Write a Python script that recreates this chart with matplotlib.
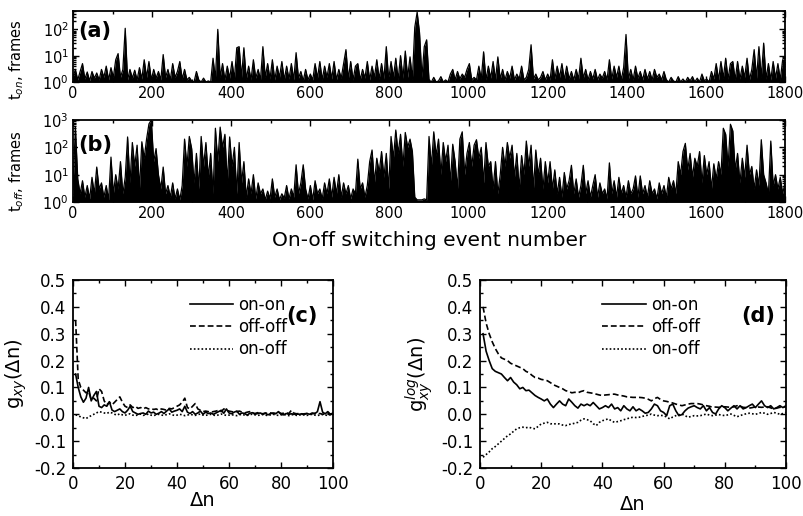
import matplotlib
matplotlib.use("Agg")
import matplotlib.pyplot as plt
import numpy as np
from matplotlib.ticker import MultipleLocator, LogLocator, NullFormatter

# ---- data ----
# (a) on-times, one value every 6 events from 0 to 1800
t_on = [
    1.5, 3, 1.2, 2.5, 5, 1.3, 2.4, 1.1, 2.5, 1.4,
    2.2, 1.2, 3, 1.5, 4, 1.2, 3.5, 1.5, 7, 12,
    1.5, 3, 110, 1.2, 3, 1.4, 2.8, 1.2, 3.5, 1.3,
    7, 1.5, 6, 1.2, 3, 1.4, 2.5, 1.2, 11, 1.5,
    3, 1.2, 5, 1.5, 2.5, 6, 1.3, 3, 1.2, 1.5,
    1.1, 1, 2.5, 1.2, 1, 1.4, 1, 1.1, 1, 8,
    1.3, 100, 1.5, 5, 1.2, 4, 1.4, 6, 1.3, 20,
    22, 1.5, 20, 1.3, 4, 1.2, 7, 1.4, 3, 1.2,
    22, 1.5, 5, 1.3, 7, 1.2, 4, 1.5, 6, 1.2,
    4, 1.3, 5, 1.2, 13, 1.4, 2.5, 1.1, 3, 1.2,
    2, 1.2, 5, 1.4, 6, 1.2, 4, 1.5, 5, 1.3,
    6, 1.2, 3, 1.4, 5, 17, 1.3, 6, 1.2, 4,
    5, 1.2, 3, 1.4, 6, 1.2, 4, 1.5, 7, 1.3,
    5, 1.3, 22, 1.2, 6, 1.5, 8, 1.2, 10, 1.4,
    15, 1.5, 9, 1.3, 120, 450, 75, 1.5, 22, 40,
    1.2, 1, 1.5, 1, 1.1, 1.6, 1, 1.2, 1, 2,
    3, 1.2, 2.5, 1.3, 2, 1.5, 3, 5, 1.2, 1.5,
    1.2, 4, 1.3, 14, 1.2, 4, 1.4, 6, 1.2, 9,
    1.3, 3, 1.2, 2.5, 1.4, 4, 1.2, 2, 1.3, 4,
    1.2, 1.5, 3, 26, 1.3, 2, 1.2, 1.5, 2.5, 1.2,
    2, 1.2, 7, 1.3, 4, 1.5, 5, 1.2, 4, 1.3,
    2.5, 1.2, 3, 1.3, 8, 1.4, 3, 1.2, 2.5, 1.3,
    3, 1.2, 2, 1.4, 2.5, 1.2, 7, 1.3, 4, 1.5,
    4, 1.2, 3.5, 64, 1.3, 3, 1.2, 4, 1.4, 2.5,
    1.2, 3, 1.3, 2.5, 1.2, 3, 1.5, 2, 1.2, 2.5,
    1.2, 1, 1.5, 1.1, 1, 1.6, 1, 1.3, 1, 1.5,
    1.1, 1.6, 1, 1.4, 1, 2, 1.1, 1.3, 1, 2.5,
    1.3, 5, 1.2, 6, 1.4, 8, 1.3, 5, 6, 1.2,
    6, 1.3, 4, 1.5, 8, 1.2, 3, 17, 1.4, 22,
    1.5, 30, 1.3, 5, 1.2, 6, 1.4, 5, 1.2, 7,
    6,
]

# (b) off-times, same event spacing
t_off = [
    3, 560, 7, 2, 6, 1.5, 4, 1.3, 8, 2,
    19, 3, 5, 1.5, 4, 1.2, 44, 2, 10, 3,
    30, 2, 8, 240, 5, 150, 20, 120, 3, 160,
    40, 200, 720, 1000, 30, 90, 10, 3, 19, 2,
    4, 1.5, 5, 1.3, 3, 1.2, 4, 200, 20, 250,
    90, 5, 60, 3, 250, 20, 150, 8, 60, 2,
    500, 30, 550, 100, 300, 5, 240, 20, 100, 2,
    150, 5, 30, 1.5, 7, 2, 10, 1.3, 5, 2,
    3, 1.2, 2.5, 1.3, 7, 1.5, 3, 1.2, 2, 1.4,
    4, 1.3, 3, 1.5, 23, 2, 5, 23, 3, 1.3,
    4, 1.2, 6, 2, 3, 1.3, 5, 2, 7, 1.5,
    8, 2, 10, 1.5, 5, 2, 4, 1.3, 3, 2,
    37, 3, 5, 1.5, 4, 30, 80, 5, 40, 12,
    70, 8, 60, 3, 250, 40, 430, 60, 300, 20,
    350, 100, 200, 70, 1.5, 1.2, 1.2, 1.2, 1.3, 1.2,
    250, 20, 370, 50, 200, 10, 150, 30, 120, 5,
    130, 30, 3, 200, 370, 10, 60, 150, 20, 120,
    190, 40, 100, 5, 150, 20, 30, 3, 30, 2,
    10, 100, 20, 150, 40, 120, 8, 60, 3, 50,
    10, 170, 20, 120, 3, 80, 10, 40, 3, 30,
    5, 30, 3, 15, 2, 8, 1.5, 12, 3, 6,
    22, 2, 7, 1.5, 4, 22, 2, 6, 1.5, 4,
    10, 1.5, 5, 2, 3, 1.3, 27, 2, 6, 1.5,
    8, 2, 4, 1.5, 6, 2, 3, 9, 1.5, 9,
    2, 4, 1.5, 6, 2, 3, 1.3, 5, 2, 4,
    1.5, 8, 3, 6, 2, 30, 10, 70, 140, 15,
    60, 8, 40, 20, 70, 5, 50, 10, 30, 3,
    25, 7, 30, 10, 500, 300, 20, 700, 400, 15,
    60, 5, 40, 8, 120, 10, 20, 3, 15, 4,
    190, 10, 5, 2, 170, 4, 10, 3, 8, 2,
    5,
]
event = np.arange(0, 1801, 6)

# (c) linear correlation, dn = 1..100
c_onon = [
    .15, .10, .065, .045, .06, .10, .05, .07, .085, .03,
    .025, .035, .03, .047, .016, .01, .015, .02, .01, .005,
    .015, .03, .01, .005, 0, .003, .005, 0, .012, .005,
    .008, 0, .004, .01, .003, .012, .02, .008, .012, .015,
    .02, .01, .03, .008, .003, .01, 0, .005, .012, 0,
    .008, .003, .005, 0, .005, .01, .015, .004, .02, .005,
    .002, .008, .012, 0, .005, .003, -.003, .004, .006, 0,
    .003, .005, 0, .004, -.002, .003, .005, .002, .01, 0,
    -.002, .003, 0, .002, 0, .001, 0, .002, 0, .003,
    0, .005, .002, .01, .047, .008, .002, .01, 0, .005,
]
c_offoff = [
    .35, .13, .10, .09, .08, .085, .055, .06, .05, .095,
    .085, .05, .035, .045, .035, .045, .055, .065, .045, .03,
    .025, .035, .025, .03, .022, .025, .02, .025, .02, .022,
    .018, .02, .015, .02, .018, .015, .022, .02, .025, .03,
    .035, .045, .06, .025, .02, .03, .04, .02, .015, .01,
    .012, .01, .008, .01, .012, .015, .01, .02, .015, .012,
    .01, .008, .01, .012, .008, .005, .008, .01, .005, .003,
    .006, .004, .002, .005, .003, .005, .002, .004, .008, .003,
    .004, .006, .003, .015, .004, .002, .003, 0, .002, .003,
    0, .002, .004, .002, .003, 0, .002, .003, .001, .002,
]
c_onoff = [
    -.002, -.005, -.01, -.013, -.016, -.01, -.005, 0, .005, .01,
    .008, .005, .003, .008, .005, 0, -.003, .002, -.002, -.004,
    0, .002, -.003, -.005, -.002, .001, -.004, -.002, .001, -.003,
    -.005, -.002, 0, -.003, -.004, -.001, .002, -.002, -.004, -.003,
    0, -.002, -.005, -.003, 0, -.002, -.004, -.001, .001, -.003,
    -.004, -.002, 0, -.003, -.005, -.002, .001, -.002, -.004, -.003,
    -.001, -.004, -.005, -.002, 0, -.003, -.004, -.002, .001, -.002,
    -.004, -.003, -.001, -.003, -.005, -.002, 0, -.003, -.004, -.002,
    0, -.003, -.005, -.002, -.001, -.004, -.003, -.001, -.003, -.004,
    -.002, 0, -.003, -.005, -.002, -.001, -.003, -.004, -.002, -.003,
]

# (d) log correlation, dn = 1..100
d_onon = [
    .30, .235, .20, .17, .16, .155, .15, .137, .125, .137,
    .12, .11, .095, .10, .088, .09, .08, .07, .063, .057,
    .05, .057, .038, .025, .038, .05, .038, .032, .057, .045,
    .032, .023, .038, .032, .038, .032, .044, .032, .02, .025,
    .032, .025, .038, .02, .025, .013, .032, .02, .013, .028,
    .013, .02, .013, .004, .007, .02, .038, .032, .013, .007,
    -.005, .032, .038, .013, -.005, -.001, .013, .023, .028, .032,
    .025, .02, .032, .013, .025, .007, .001, .02, .032, .025,
    .013, .023, .032, .02, .032, .02, .025, .032, .038, .025,
    .038, .05, .032, .025, .032, .02, .025, .032, .025, .032,
]
d_offoff = [
    .40, .34, .30, .27, .245, .225, .21, .205, .20, .19,
    .185, .18, .175, .17, .16, .155, .145, .137, .135, .13,
    .128, .125, .118, .11, .105, .10, .095, .088, .085, .08,
    .082, .08, .085, .088, .082, .08, .078, .075, .072, .07,
    .072, .073, .075, .075, .072, .07, .068, .065, .064, .063,
    .063, .063, .062, .06, .056, .05, .058, .063, .055, .05,
    .048, .045, .042, .038, .035, .032, .035, .038, .04, .04,
    .04, .038, .035, .032, .03, .026, .027, .026, .027, .028,
    .027, .026, .028, .032, .03, .026, .025, .023, .025, .028,
    .027, .026, .027, .028, .024, .02, .023, .026, .027, .028,
]
d_onoff = [
    -.16, -.15, -.14, -.128, -.12, -.11, -.10, -.09, -.08, -.073,
    -.063, -.054, -.05, -.048, -.05, -.048, -.052, -.054, -.045, -.036,
    -.033, -.03, -.035, -.036, -.035, -.036, -.04, -.042, -.038, -.036,
    -.033, -.03, -.022, -.017, -.02, -.024, -.035, -.042, -.03, -.024,
    -.02, -.017, -.025, -.03, -.027, -.024, -.02, -.017, -.013, -.011,
    -.012, -.011, -.008, -.005, -.003, .001, -.003, -.005, -.004, -.005,
    -.01, -.017, -.01, -.005, -.002, .001, -.005, -.011, -.008, -.005,
    -.006, -.005, -.002, .001, -.003, -.005, -.003, -.001, -.003, -.005,
    -.002, .001, -.004, -.009, -.005, -.001, .002, .004, .002, 0,
    .003, .007, .004, 0, .003, .007, .004, 0, .003, .007,
]
dn = np.arange(1, 101)

plt.rcParams['font.family'] = 'DejaVu Sans'
plt.rcParams['axes.linewidth'] = 1.3

fig = plt.figure(figsize=(8.04, 5.16), dpi=100)
ax_a = fig.add_axes([0.0908, 0.8411, 0.8856, 0.1376])
ax_b = fig.add_axes([0.0908, 0.6085, 0.8856, 0.1589])
ax_c = fig.add_axes([0.0908, 0.0930, 0.3234, 0.3643])
ax_d = fig.add_axes([0.5970, 0.0930, 0.3806, 0.3643])


def style_ticks(ax, size, pad=3):
    ax.tick_params(which='both', direction='in', top=True, right=True,
                   labelsize=size, width=1.0, pad=pad)
    ax.tick_params(which='major', length=4.5)
    ax.tick_params(which='minor', length=2.5)


# top panels: dense switching traces
for ax, y, top, lab, ly in [(ax_a, t_on, 500, '(a)', 0.72), (ax_b, t_off, 1000, '(b)', 0.69)]:
    ax.fill_between(event, 1, y, color='black', lw=0)
    ax.plot(event, y, color='black', lw=0.9)
    ax.set_yscale('log')
    ax.set_ylim(1, top)
    ax.set_xlim(0, 1800)
    ax.xaxis.set_major_locator(MultipleLocator(200))
    ax.xaxis.set_minor_locator(MultipleLocator(100))
    ax.yaxis.set_major_locator(LogLocator(base=10))
    ax.yaxis.set_minor_locator(LogLocator(base=10, subs=np.arange(2, 10)))
    ax.yaxis.set_minor_formatter(NullFormatter())
    style_ticks(ax, 10.5)
    ax.text(0.008, ly, lab, transform=ax.transAxes, fontsize=15,
            fontweight='bold', ha='left', va='center',
            bbox=dict(facecolor='white', edgecolor='none', pad=0.5))

ax_a.set_ylabel(r't$_{on}$, frames', fontsize=10.5)
ax_a.yaxis.set_label_coords(-0.066, 0.32)
ax_b.set_ylabel(r't$_{off}$, frames', fontsize=10.5)
ax_b.yaxis.set_label_coords(-0.066, 0.38)
ax_b.set_xlabel('On-off switching event number', fontsize=14.5, labelpad=7)

# bottom panels: correlation functions
for ax, on, off, cross, lab, lx in [(ax_c, c_onon, c_offoff, c_onoff, '(c)', 0.88),
                                    (ax_d, d_onon, d_offoff, d_onoff, '(d)', 0.908)]:
    ax.plot(dn, on, color='black', lw=1.2, label='on-on')
    ax.plot(dn, off, color='black', lw=1.2, dashes=(3.5, 1.8), label='off-off')
    ax.plot(dn, cross, color='black', lw=1.2, dashes=(1, 1.3), label='on-off')
    ax.set_xlim(0, 100)
    ax.set_ylim(-0.2, 0.5)
    ax.xaxis.set_major_locator(MultipleLocator(20))
    ax.xaxis.set_minor_locator(MultipleLocator(10))
    ax.yaxis.set_major_locator(MultipleLocator(0.1))
    ax.yaxis.set_minor_locator(MultipleLocator(0.05))
    ax.yaxis.set_major_formatter(plt.FuncFormatter(lambda v, p: '%.1f' % v))
    style_ticks(ax, 12, pad=5)
    ax.text(lx, 0.81, lab, transform=ax.transAxes, fontsize=15,
            fontweight='bold', ha='center', va='center')
    ax.set_xlabel('\u0394n', fontsize=14)
    ax.legend(loc='upper left', bbox_to_anchor=(0.45 if lab == '(c)' else 0.40, 0.915),
              frameon=False, fontsize=12, handlelength=2.6, handletextpad=0.3,
              labelspacing=0.25, borderpad=0, borderaxespad=0)

ax_c.set_ylabel('g$_{xy}$(\u0394n)', fontsize=14)
ax_c.yaxis.set_label_coords(-0.17, 0.5)
ax_d.set_ylabel('g$_{xy}^{log}$(\u0394n)', fontsize=14)
ax_d.yaxis.set_label_coords(-0.148, 0.5)
ax_c.xaxis.set_label_coords(0.5, -0.12)
ax_d.xaxis.set_label_coords(0.5, -0.145)

fig.savefig('out.png', dpi=100)
